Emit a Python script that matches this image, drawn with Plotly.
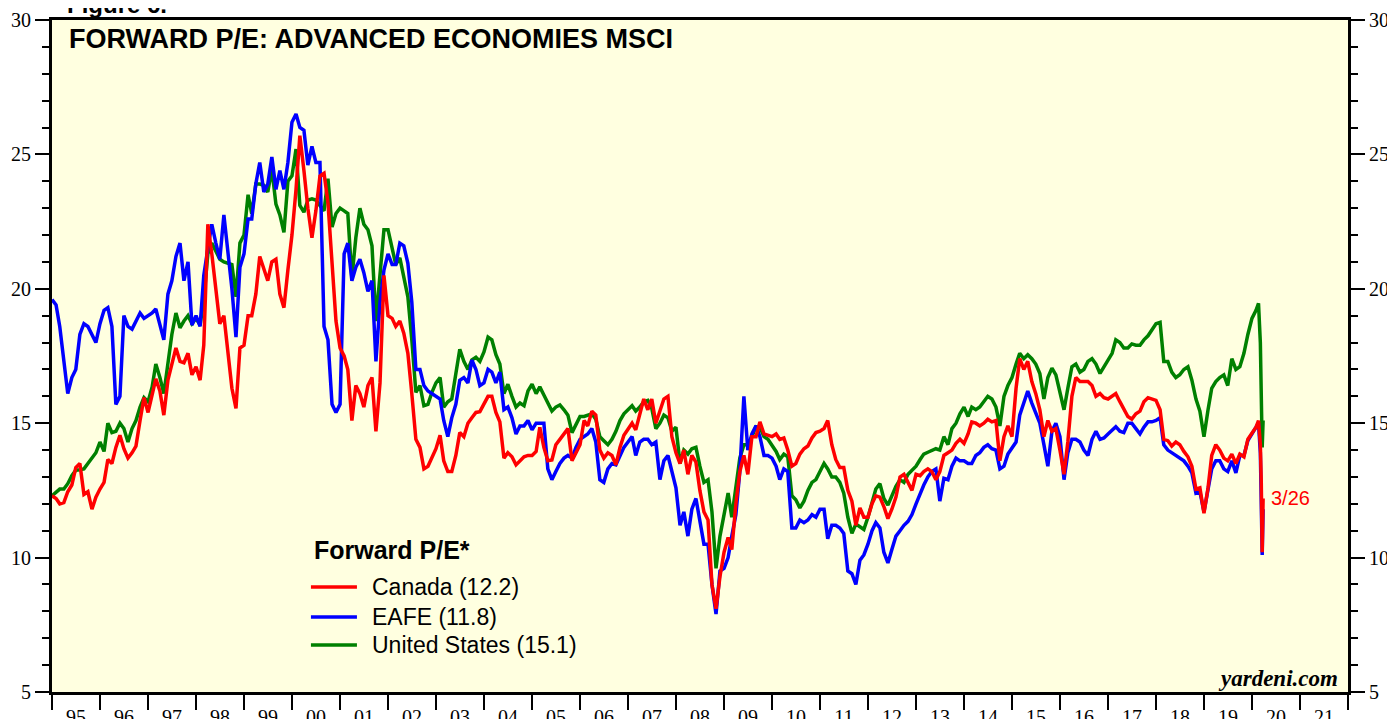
import pandas as pd
import plotly.graph_objects as go

# ---- dates: monthly 1995-01 .. 2020-02, then weekly readings into March 2020
monthly_dates = pd.date_range("1995-01-01", "2020-02-01", freq="MS").strftime("%Y-%m-%d").tolist()
weekly_tail = ["2020-02-20", "2020-03-05", "2020-03-12", "2020-03-19", "2020-03-26"]
dates = monthly_dates + weekly_tail

canada = [
    12.3, 12.2, 12.0, 12.05, 12.45, 12.7, 13.35, 13.5, 12.35, 12.45, 11.8, 12.25,      # 1995
    12.55, 12.8, 13.65, 13.5, 14.1, 14.55, 14.05, 13.7, 13.9, 14.15, 15.1, 15.95,     # 1996
    15.4, 16.1, 16.65, 16.2, 15.3, 16.6, 17.15, 17.8, 17.3, 17.25, 17.6, 16.8,        # 1997
    17.1, 16.6, 17.9, 22.4, 21.3, 19.9, 18.7, 19.0, 17.7, 16.3, 15.55, 17.8,          # 1998
    17.9, 19.0, 19.0, 19.8, 21.2, 20.75, 20.3, 21.0, 21.1, 19.8, 19.3, 20.7,          # 1999
    22.0, 23.7, 25.7, 24.4, 23.0, 21.9, 22.9, 24.2, 24.3, 23.2, 21.1, 18.8,           # 2000
    17.8, 17.5, 17.0, 15.1, 16.4, 16.1, 15.6, 16.4, 16.7, 14.7, 16.5, 20.5,           # 2001
    19.0, 18.9, 18.6, 18.8, 18.35, 17.6, 16.1, 14.4, 14.1, 13.3, 13.4, 13.7,          # 2002
    14.05, 14.55, 13.6, 13.2, 13.2, 13.8, 14.65, 14.5, 15.0, 15.2, 15.4, 15.43,       # 2003
    15.7, 16.0, 16.0, 15.4, 15.05, 13.7, 13.9, 13.75, 13.45, 13.6, 13.75, 13.8,       # 2004
    13.8, 13.95, 14.85, 14.1, 13.6, 13.63, 14.2, 14.4, 14.6, 14.8, 13.6, 13.9,        # 2005
    14.2, 15.1, 14.9, 15.45, 15.3, 14.0, 13.7, 13.9, 13.8, 13.45, 14.1, 14.55,        # 2006
    14.75, 15.0, 14.75, 15.3, 15.9, 15.5, 15.9, 15.0, 15.5, 15.9, 16.0, 14.5,         # 2007
    13.9, 13.5, 14.0, 13.1, 13.8, 13.55, 12.5, 11.7, 11.4, 9.0, 8.1, 9.3,             # 2008
    10.2, 10.75, 10.3, 12.0, 13.2, 13.8, 13.1, 14.5, 14.5, 15.05, 14.6, 14.55,        # 2009
    14.5, 14.6, 14.4, 14.45, 14.0, 13.4, 13.5, 13.85, 14.05, 14.15, 14.45, 14.65,     # 2010
    14.7, 14.8, 15.1, 14.2, 13.65, 13.35, 13.35, 12.5, 12.1, 11.2, 11.85, 11.5,       # 2011
    11.5, 12.0, 12.3, 12.25, 11.9, 11.45, 11.8, 12.25, 13.0, 13.1, 12.8, 12.5,        # 2012
    13.1, 13.05, 13.2, 13.3, 13.2, 12.9, 13.2, 13.8, 13.9, 14.0, 14.25, 14.4,         # 2013
    14.25, 14.6, 15.05, 15.0, 14.9, 15.0, 15.15, 15.05, 15.1, 13.6, 14.5, 14.9,       # 2014
    14.5, 16.3, 17.4, 17.0, 17.3, 16.55, 16.1, 15.5, 14.5, 15.1, 14.7, 14.8,          # 2015
    14.0, 13.1, 14.3, 16.0, 16.7, 16.55, 16.55, 16.55, 16.4, 16.0, 16.1, 15.95,       # 2016
    15.9, 16.0, 16.1, 15.8, 15.5, 15.25, 15.15, 15.35, 15.45, 15.8, 15.95, 15.9,      # 2017
    15.85, 15.5, 14.4, 14.35, 14.15, 14.3, 14.2, 13.95, 13.75, 13.4, 12.55, 12.6,     # 2018
    11.65, 12.6, 13.8, 14.2, 14.0, 13.7, 13.6, 13.85, 13.5, 13.85, 13.75, 14.4,       # 2019
    14.6, 14.85,                                                                      # 2020 Jan-Feb
    15.1, 14.2, 12.8, 10.2, 12.2,                                                     # weekly tail
]

eafe = [
    19.6, 19.4, 18.6, 17.2, 16.1, 16.7, 17.0, 18.3, 18.7, 18.6, 18.3, 18.0,           # 1995
    18.7, 19.2, 19.3, 18.6, 15.7, 16.0, 19.0, 18.6, 18.5, 18.8, 19.1, 18.9,           # 1996
    19.0, 19.1, 19.25, 18.7, 18.1, 19.8, 20.3, 21.2, 21.7, 20.3, 21.0, 18.65,         # 1997
    19.0, 18.6, 20.5, 21.5, 22.4, 21.7, 21.1, 22.75, 21.4, 20.0, 18.2, 20.8,          # 1998
    21.3, 22.6, 22.6, 23.9, 24.7, 23.6, 23.9, 24.9, 23.7, 24.4, 23.7, 24.7,           # 1999
    26.2, 26.5, 26.0, 25.9, 24.6, 25.3, 24.7, 24.7, 18.6, 18.1, 15.7, 15.4,           # 2000
    15.7, 21.3, 21.7, 20.3, 20.8, 21.1, 20.6, 19.9, 20.3, 17.3, 19.5, 20.7,           # 2001
    21.3, 20.9, 20.9, 21.7, 21.6, 20.95, 19.5, 17.0, 17.0, 16.4, 16.2, 16.1,          # 2002
    16.0, 15.9, 15.1, 14.5, 15.2, 15.7, 16.6, 16.7, 16.5, 17.35, 17.0, 16.4,          # 2003
    16.5, 17.0, 16.9, 16.5, 16.9, 15.5, 15.6, 15.2, 14.6, 14.9, 14.9, 15.1,           # 2004
    14.75, 15.0, 15.0, 15.0, 13.3, 12.9, 13.2, 13.5, 13.7, 13.8, 13.7, 14.1,          # 2005
    14.4, 14.5, 14.6, 14.8, 14.3, 12.9, 12.8, 13.3, 13.5, 13.45, 13.8, 14.1,          # 2006
    14.3, 14.5, 13.8, 14.3, 14.4, 14.4, 14.2, 14.3, 12.9, 13.6, 13.8, 13.2,           # 2007
    12.6, 11.2, 11.7, 10.8, 11.8, 12.2, 11.3, 10.5, 10.5, 9.0, 7.9, 9.5,              # 2008
    9.6, 10.0, 10.8, 11.6, 13.2, 16.0, 14.0, 14.6, 14.9, 14.5, 13.8, 13.8,            # 2009
    13.7, 13.4, 12.9, 13.3, 13.2, 11.1, 11.1, 11.4, 11.3, 11.4, 11.6, 11.5,           # 2010
    11.8, 11.8, 10.7, 11.2, 11.2, 11.1, 10.9, 9.5, 9.4, 9.0, 9.9, 10.1,               # 2011
    10.5, 11.0, 11.3, 11.1, 10.2, 9.8, 10.3, 10.8, 11.0, 11.2, 11.35, 11.6,           # 2012
    12.0, 12.4, 12.7, 13.0, 13.2, 13.3, 12.1, 12.95, 12.9, 13.4, 13.7, 13.6,          # 2013
    13.6, 13.5, 13.5, 13.8, 13.9, 14.1, 14.2, 14.05, 14.0, 13.3, 13.4, 13.85,         # 2014
    14.1, 14.3, 15.3, 15.8, 16.2, 15.75, 15.4, 15.0, 14.2, 13.4, 14.7, 15.0,          # 2015
    14.5, 12.9, 13.9, 14.4, 14.4, 14.3, 14.0, 13.8, 14.4, 14.7, 14.4, 14.45,          # 2016
    14.6, 14.75, 14.87, 14.7, 14.65, 15.0, 15.0, 14.8, 14.6, 14.85, 15.05, 15.05,     # 2017
    15.1, 15.2, 14.2, 14.0, 13.9, 13.8, 13.7, 13.6, 13.4, 13.15, 12.4, 12.45,         # 2018
    11.7, 12.6, 13.3, 13.6, 13.6, 13.3, 13.2, 13.6, 13.15, 13.8, 13.8, 14.35,         # 2019
    14.6, 14.9,                                                                       # 2020 Jan-Feb
    15.0, 13.9, 12.3, 10.1, 11.8,                                                     # weekly tail
]

united_states = [
    12.3, 12.45, 12.55, 12.55, 12.75, 13.05, 13.25, 13.27, 13.3, 13.5, 13.7, 13.9,    # 1995
    14.3, 13.95, 15.0, 14.65, 14.7, 15.0, 14.8, 14.3, 14.8, 15.1, 15.6, 15.95,        # 1996
    15.8, 16.35, 17.2, 16.7, 16.1, 17.3, 18.3, 19.1, 18.55, 18.8, 19.0, 18.7,         # 1997
    18.9, 18.65, 19.6, 21.3, 21.7, 21.4, 21.1, 21.0, 20.95, 20.9, 19.7, 21.7,         # 1998
    22.0, 23.5, 22.8, 23.9, 23.9, 23.85, 23.6, 24.45, 23.15, 22.75, 22.1, 24.0,       # 1999
    24.2, 25.2, 23.1, 22.85, 23.3, 23.35, 23.3, 23.1, 22.9, 24.1, 22.3, 22.8,         # 2000
    23.0, 22.9, 22.8, 20.4, 21.9, 23.0, 22.4, 22.2, 21.6, 18.8, 20.4, 22.2,           # 2001
    22.2, 21.5, 20.9, 21.15, 20.5, 19.7, 18.1, 16.15, 16.4, 15.65, 15.7, 16.15,       # 2002
    16.5, 16.7, 15.6, 15.8, 15.9, 16.8, 17.75, 17.3, 17.0, 17.35, 17.45, 17.3,        # 2003
    17.65, 18.2, 18.1, 17.55, 17.2, 16.1, 16.45, 16.0, 15.6, 15.75, 15.65, 16.2,      # 2004
    16.45, 16.1, 16.35, 16.05, 15.75, 15.45, 15.6, 15.68, 15.5, 15.3, 14.65, 14.95,   # 2005
    15.25, 15.25, 15.3, 15.35, 15.15, 14.5, 14.35, 14.2, 14.4, 14.7, 15.1, 15.35,     # 2006
    15.5, 15.65, 15.45, 15.6, 15.8, 15.85, 15.55, 14.8, 15.0, 15.3, 15.2, 14.7,       # 2007
    14.85, 13.5, 14.0, 13.85, 14.05, 14.1, 13.4, 12.8, 12.9, 11.7, 9.6, 10.8,         # 2008
    11.6, 12.4, 11.5, 12.6, 13.7, 14.2, 14.2, 14.5, 14.87, 14.85, 14.5, 14.4,         # 2009
    14.2, 13.95, 13.65, 13.85, 13.75, 12.3, 12.15, 11.85, 12.1, 12.5, 12.8, 12.9,     # 2010
    13.2, 13.5, 13.3, 13.0, 13.0, 12.8, 12.4, 11.5, 10.9, 11.25, 11.15, 11.05,        # 2011
    11.5, 12.1, 12.55, 12.75, 12.2, 11.95, 12.3, 12.65, 12.9, 12.8, 13.1, 13.26,      # 2012
    13.4, 13.65, 13.85, 13.92, 14.0, 14.05, 14.0, 14.5, 14.2, 14.8, 15.0, 15.35,      # 2013
    15.6, 15.25, 15.6, 15.5, 15.6, 15.8, 16.0, 15.9, 15.6, 14.9, 16.0, 16.4,          # 2014
    16.7, 17.2, 17.6, 17.4, 17.55, 17.4, 17.2, 16.85, 15.9, 16.7, 17.05, 16.8,        # 2015
    16.1, 15.5, 16.3, 17.1, 17.2, 16.9, 17.0, 17.3, 17.4, 17.2, 16.85, 17.1,          # 2016
    17.4, 17.6, 18.1, 18.0, 17.8, 17.8, 17.95, 17.9, 17.9, 18.1, 18.25, 18.5,         # 2017
    18.7, 18.75, 17.3, 17.3, 16.9, 16.7, 16.8, 17.0, 17.1, 16.6, 15.9, 15.45,         # 2018
    14.5, 15.5, 16.3, 16.55, 16.7, 16.8, 16.4, 17.4, 17.0, 17.1, 17.6, 18.3,          # 2019
    18.9, 19.2,                                                                       # 2020 Jan-Feb
    19.46, 18.0, 16.3, 14.1, 15.1,                                                    # weekly tail
]

# drawing order (bottom -> top); the legend lists them the other way round
series = [
    ("United States", united_states, "#008000"),
    ("EAFE", eafe, "#0000FF"),
    ("Canada", canada, "#FF0000"),
]

y_range = [5, 30]
x_range = ["1995-01-01", "2022-01-01"]

SANS = "Liberation Sans, Arial, sans-serif"
SERIF = "Liberation Serif, Times New Roman, serif"

fig = go.Figure()
for name, vals, color in series:
    fig.add_trace(go.Scatter(
        x=dates, y=vals, mode="lines",
        line=dict(color=color, width=3.5),
        name=f"{name} ({vals[-1]:.1f})",
        showlegend=False,
    ))

# helper trace so the mirrored right-hand axis is drawn
fig.add_trace(go.Scatter(x=[dates[0]], y=[None], yaxis="y2", showlegend=False,
                         hoverinfo="skip", mode="lines"))

axis_common = dict(
    showline=True, linewidth=3, linecolor="black",
    ticks="outside", tickcolor="black", tickwidth=2,
    showgrid=False, zeroline=False, automargin=False,
    tickfont=dict(family=SERIF, size=20, color="black"),
)

# The page body adds an 8px offset, so the figure is sized to fit inside the window
fig.update_layout(
    template="none",
    width=1387, height=711,
    margin=dict(l=44, r=47, t=12, b=27),
    paper_bgcolor="white",
    plot_bgcolor="#FFFFE0",
    font=dict(family=SANS, color="black"),
    showlegend=False,
    xaxis=dict(
        type="date", range=x_range,
        tick0="1995-01-01", dtick="M12", tickformat="%y",
        ticklabelmode="period", ticklen=15, mirror=True,
        ticklabelstandoff=-10,
        **axis_common,
    ),
    yaxis=dict(
        range=y_range, dtick=5, tick0=5, ticklen=14, mirror=True,
        minor=dict(dtick=1, ticks="outside", ticklen=7, tickwidth=2, tickcolor="black", showgrid=False),
        **axis_common,
    ),
    yaxis2=dict(
        range=y_range, dtick=5, tick0=5, ticklen=14, overlaying="y", side="right",
        minor=dict(dtick=1, ticks="outside", ticklen=7, tickwidth=2, tickcolor="black", showgrid=False),
        **axis_common,
    ),
)

# ---- legend block (header + one swatch and label per series)
legend_x_line = (0.1998, 0.2353)
legend_x_text = 0.2454
legend_rows_y = [0.1563, 0.1116, 0.0699]
fig.add_annotation(
    text="<b>Forward P/E*</b>",
    xref="paper", yref="paper", x=0.2010, y=0.2113, xanchor="left", yanchor="middle",
    showarrow=False, font=dict(family=SANS, size=25, color="black"),
)
for (name, vals, color), ry in zip(reversed(series), legend_rows_y):
    fig.add_shape(type="line", xref="paper", yref="paper",
                  x0=legend_x_line[0], x1=legend_x_line[1], y0=ry, y1=ry,
                  line=dict(color=color, width=3.5))
    fig.add_annotation(
        text=f"{name} ({vals[-1]:.1f})",
        xref="paper", yref="paper", x=legend_x_text, y=ry, xanchor="left", yanchor="middle",
        showarrow=False, font=dict(family=SANS, size=23, color="black"),
    )

fig.add_annotation(
    text="<b>FORWARD P/E: ADVANCED ECONOMIES MSCI</b>",
    xref="paper", yref="paper", x=0.0116, y=0.972, xanchor="left", yanchor="middle",
    showarrow=False, font=dict(family=SANS, size=27, color="black"),
)
fig.add_annotation(
    text="<b>Figure 6.</b>",
    xref="paper", yref="paper", x=0.0100, y=1.0, xanchor="left", yanchor="bottom",
    showarrow=False, font=dict(family=SANS, size=24, color="black"),
)
fig.add_annotation(
    text="<b><i>yardeni.com</i></b>",
    xref="paper", yref="paper", x=0.994, y=0.0208, xanchor="right", yanchor="middle",
    showarrow=False, font=dict(family=SERIF, size=23, color="black"),
)
fig.add_annotation(
    text="3/26",
    x=dates[-1], y=canada[-1], xanchor="left", yanchor="middle",
    xshift=6, yshift=0,
    showarrow=False, font=dict(family=SANS, size=20, color="#FF0000"),
)

fig.write_html("out.html")
